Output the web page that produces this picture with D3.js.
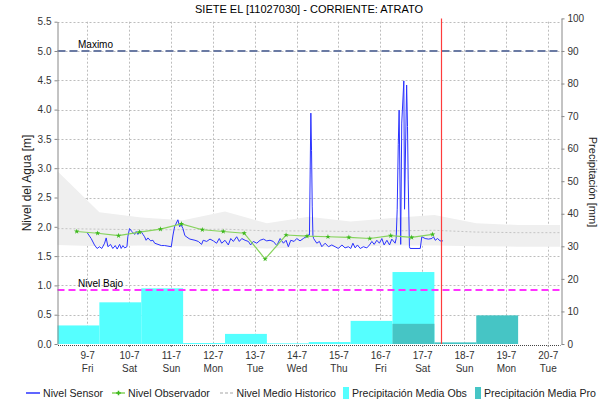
<!DOCTYPE html>
<html>
<head>
<meta charset="utf-8">
<script src="https://cdn.jsdelivr.net/npm/d3@7"></script>
<style>
  body { margin: 0; background: #fff; }
  svg { display: block; font-family: "Liberation Sans", Arial, sans-serif; }
</style>
</head>
<body>
<svg id="chart" width="616" height="405"></svg>
<script>
// ---- data ----
const dayLabels = ["9-7", "10-7", "11-7", "12-7", "13-7", "14-7", "15-7", "16-7", "17-7", "18-7", "19-7", "20-7"];
const weekDays = ["Fri", "Sat", "Sun", "Mon", "Tue", "Wed", "Thu", "Fri", "Sat", "Sun", "Mon", "Tue"];
const levelTicks = [0, 0.5, 1, 1.5, 2, 2.5, 3, 3.5, 4, 4.5, 5, 5.5];
const rainTicks = [0, 10, 20, 30, 40, 50, 60, 70, 80, 90, 100];

// sensor: [hours since 9-7 00:00, level m]
const sensorLevels = [
  [0, 1.90], [2.3, 1.80], [4.2, 1.69], [5.7, 1.63], [7.1, 1.66], [8.4, 1.63], [10, 1.72], [10.9, 1.81],
  [11.9, 1.66], [13.4, 1.70], [14.7, 1.63], [16.1, 1.68], [17.2, 1.62], [18.6, 1.70], [19.5, 1.63],
  [20.5, 1.68], [21.5, 1.64], [22.8, 1.66], [23.3, 1.83], [24.3, 1.97], [25.6, 1.92], [27.2, 1.87],
  [28.1, 1.92], [29.1, 1.87], [30.6, 1.93], [32, 1.87], [32.9, 1.83], [33.8, 1.77], [34.8, 1.81],
  [36.4, 1.76], [37.7, 1.77], [38.7, 1.72], [40.6, 1.70], [42.5, 1.68], [44.4, 1.68], [46.3, 1.67],
  [48.2, 1.66], [49.2, 1.86], [50.1, 2.00], [52, 2.12], [53, 2.00], [53.9, 2.03], [54.9, 1.97],
  [56, 1.85], [57.8, 1.81], [58.9, 1.79], [61.8, 1.77], [63.7, 1.75], [65.6, 1.70], [66.5, 1.77],
  [68.5, 1.75], [70.4, 1.79], [72.3, 1.76], [74.2, 1.72], [75.7, 1.80], [77.1, 1.72], [79, 1.77],
  [80.9, 1.69], [82.3, 1.80], [83.8, 1.75], [85.7, 1.83], [87.2, 1.75], [88.6, 1.80], [90.5, 1.77],
  [92.4, 1.75], [93.7, 1.69], [95.2, 1.75], [97.2, 1.72], [99.1, 1.77], [101, 1.79], [102.9, 1.76],
  [104.8, 1.77], [106.7, 1.75], [108.7, 1.68], [110.6, 1.80], [112.5, 1.72], [114, 1.77], [115.3, 1.66],
  [116.7, 1.77], [118.6, 1.75], [120.1, 1.80], [122, 1.76], [123.9, 1.80], [125.4, 1.83], [126.7, 1.86],
  [127.4, 1.86], [127.8, 2.90], [128.2, 3.94], [128.6, 3.30], [129.0, 2.34], [129.4, 1.85], [129.8, 1.80],
  [131.6, 1.72], [133.1, 1.75], [134.5, 1.66], [136.4, 1.72], [138.3, 1.66], [140.2, 1.69], [142.1, 1.66],
  [144, 1.63], [146, 1.69], [147.8, 1.64], [149.7, 1.66], [151.1, 1.63], [152.3, 1.72], [153.6, 1.64],
  [154.9, 1.69], [156.5, 1.63], [158.3, 1.66], [160.3, 1.64], [161.8, 1.69], [163.2, 1.75], [164.5, 1.70],
  [166, 1.77], [167.5, 1.72], [168.9, 1.80], [170.2, 1.69], [171.8, 1.77], [173.3, 1.69], [174.6, 1.79],
  [176.5, 1.72], [177.1, 1.80], [177.7, 2.30], [178.3, 3.40], [178.8, 3.99], [179.7, 1.70], [180.3, 3.77],
  [181.5, 4.49], [181.9, 2.30], [183.1, 4.42], [183.6, 3.71], [184, 2.80], [184.7, 1.66], [185.1, 1.63],
  [190.9, 1.63], [191.8, 1.83], [193.7, 1.80], [195.6, 1.79], [197.6, 1.80], [198.5, 1.83], [199.5, 1.77],
  [200.8, 1.80], [202.3, 1.76], [203.9, 1.76]
];

// observer readings, every 12 h starting 8-7 18:00
const observerLevels = [1.92, 1.89, 1.85, 1.91, 1.96, 2.05, 1.95, 1.92, 1.89, 1.45,
                        1.86, 1.84, 1.83, 1.82, 1.80, 1.85, 1.82, 1.87];

// historical level, one value per day starting 8-7 07:00
const histUpper  = [2.95, 2.25, 2.16, 2.11, 2.26, 2.06, 2.17, 2.09, 2.15, 2.20, 2.06, 2.03, 2.03];
const histLower  = [1.69, 1.67, 1.68, 1.67, 1.66, 1.63, 1.65, 1.66, 1.68, 1.68, 1.67, 1.66, 1.66];
const histMedian = [1.97, 1.96, 1.95, 1.95, 1.96, 1.93, 1.93, 1.92, 1.93, 1.94, 1.91, 1.90, 1.90];

// daily rain (07:00 to 07:00) starting 8-7
const rainObs = [5.7, 12.8, 17.1, 0.3, 3.1, 0.2, 0.6, 7.1, 22.1, 0, 0, 0];
const rainPro = [0, 0, 0, 0, 0, 0, 0, 0, 6.2, 0.5, 8.8, 0];

const levelMax = 5.0;
const levelLow = 0.92;

// ---- setup ----
const svg = d3.select("#chart");
const HOUR = 3600 * 1000;
const start = new Date(2021, 6, 8, 7);
const sensorStart = new Date(2021, 6, 9, 0);
const obsStart = new Date(2021, 6, 8, 18);
const now = new Date(2021, 6, 17, 11);

const plotLeft = 57.5, plotRight = 560, plotTop = 18.4, plotBottom = 344;

const x = d3.scaleTime().domain([start, new Date(2021, 6, 20, 7)]).range([plotLeft, plotRight]);
const yLevel = d3.scaleLinear().domain([0, 5.5]).range([plotBottom, 21.7]);
const yRain = d3.scaleLinear().domain([0, 100]).range([plotBottom, plotTop]);

const dayStart = i => new Date(start.getTime() + i * 24 * HOUR);
const tickDates = dayLabels.map((d, i) => new Date(2021, 6, 9 + i));

// title
svg.append("text")
    .attr("x", 309)
    .attr("y", 13)
    .attr("text-anchor", "middle")
    .attr("font-size", "11px")
    .attr("fill", "#000")
    .text("SIETE EL [11027030] - CORRIENTE: ATRATO");

// gridlines
const grid = svg.append("g")
    .attr("stroke", "#bdbdbd")
    .attr("stroke-dasharray", "2,2")
    .attr("stroke-width", 1);

levelTicks.filter(v => v > 0).forEach(v => {
    grid.append("line")
        .attr("x1", plotLeft).attr("x2", plotRight)
        .attr("y1", Math.round(yLevel(v)) + 0.5).attr("y2", Math.round(yLevel(v)) + 0.5);
});
tickDates.forEach(d => {
    grid.append("line")
        .attr("x1", Math.round(x(d)) + 0.5).attr("x2", Math.round(x(d)) + 0.5)
        .attr("y1", yLevel(5.5)).attr("y2", plotBottom);
});

// historical band
const histPoints = histUpper.map((u, i) => ({ t: dayStart(i), u: u, l: histLower[i], m: histMedian[i] }));
svg.append("path")
    .datum(histPoints)
    .attr("fill", "#efefef")
    .attr("d", d3.area().x(d => x(d.t)).y0(d => yLevel(d.l)).y1(d => yLevel(d.u)));
svg.append("path")
    .datum(histPoints)
    .attr("fill", "none")
    .attr("stroke", "#c4c4c4")
    .attr("stroke-dasharray", "2,2")
    .attr("d", d3.line().x(d => x(d.t)).y(d => yLevel(d.m)));

// rain bars
svg.append("g").selectAll("rect")
    .data(rainObs)
    .join("rect")
    .attr("x", (d, i) => x(dayStart(i)))
    .attr("width", (d, i) => x(dayStart(i + 1)) - x(dayStart(i)))
    .attr("y", d => yRain(d))
    .attr("height", d => plotBottom - yRain(d))
    .attr("fill", "#55ffff");

svg.append("g").selectAll("rect")
    .data(rainPro)
    .join("rect")
    .attr("x", (d, i) => x(dayStart(i)))
    .attr("width", (d, i) => x(dayStart(i + 1)) - x(dayStart(i)))
    .attr("y", d => yRain(d))
    .attr("height", d => plotBottom - yRain(d))
    .attr("fill", "#46c5c5");

// threshold lines
svg.append("line")
    .attr("x1", plotLeft).attr("x2", plotRight)
    .attr("y1", yLevel(levelMax)).attr("y2", yLevel(levelMax))
    .attr("stroke", "#6a7aa3")
    .attr("stroke-width", 2)
    .attr("stroke-dasharray", "8,4");
svg.append("text")
    .attr("x", 78).attr("y", yLevel(levelMax) - 3)
    .attr("font-size", "10px")
    .text("Maximo");

svg.append("line")
    .attr("x1", plotLeft).attr("x2", plotRight)
    .attr("y1", yLevel(levelLow)).attr("y2", yLevel(levelLow))
    .attr("stroke", "#ff33ff")
    .attr("stroke-width", 2)
    .attr("stroke-dasharray", "7,4");
svg.append("text")
    .attr("x", 78).attr("y", yLevel(levelLow) - 3)
    .attr("font-size", "10px")
    .text("Nivel Bajo");

// sensor line
svg.append("path")
    .datum(sensorLevels)
    .attr("fill", "none")
    .attr("stroke", "#2b33ff")
    .attr("stroke-width", 1)
    .attr("d", d3.line()
        .x(d => x(new Date(sensorStart.getTime() + d[0] * HOUR)))
        .y(d => yLevel(d[1])));

// observer line + markers
const obsPoints = observerLevels.map((v, i) => ({ t: new Date(obsStart.getTime() + i * 12 * HOUR), v: v }));
svg.append("path")
    .datum(obsPoints)
    .attr("fill", "none")
    .attr("stroke", "#86d35c")
    .attr("stroke-width", 1.2)
    .attr("d", d3.line().x(d => x(d.t)).y(d => yLevel(d.v)));
svg.append("g").selectAll("path")
    .data(obsPoints)
    .join("path")
    .attr("transform", d => `translate(${x(d.t)},${yLevel(d.v)})`)
    .attr("d", d3.symbol(d3.symbolStar, 9))
    .attr("fill", "#3cb81c");

// now marker
svg.append("line")
    .attr("x1", Math.round(x(now)) + 0.5).attr("x2", Math.round(x(now)) + 0.5)
    .attr("y1", plotTop).attr("y2", plotBottom)
    .style("stroke", "rgb(255,60,60)")
    .style("stroke-width", "1.2px");

// axes
const styleAxis = g => {
    g.select(".domain").attr("stroke", "#888");
    g.selectAll(".tick line").attr("stroke", "#888");
    g.selectAll(".tick text").attr("fill", "#333").attr("font-size", "10px")
        .attr("font-family", "Liberation Sans, Arial, sans-serif");
};

svg.append("g")
    .attr("transform", `translate(${plotLeft},0)`)
    .call(d3.axisLeft(yLevel).tickValues(levelTicks).tickFormat(d3.format(".1f")).tickSize(3).tickSizeOuter(0))
    .call(styleAxis);

svg.append("g")
    .attr("transform", `translate(${plotRight + 1.5},0)`)
    .call(d3.axisRight(yRain).tickValues(rainTicks).tickSize(3).tickSizeOuter(0))
    .call(styleAxis);

const xAxis = svg.append("g")
    .attr("transform", `translate(0,${plotBottom + 1})`)
    .call(d3.axisBottom(x).tickValues(tickDates).tickSize(2).tickSizeOuter(0))
    .call(styleAxis);
xAxis.select(".domain").attr("stroke", "#444").attr("stroke-dasharray", "1,1");
xAxis.selectAll(".tick text").each(function (d, i) {
    const t = d3.select(this).text(null).attr("y", 7);
    t.append("tspan").attr("x", 0).attr("dy", "0.71em").text(dayLabels[i]);
    t.append("tspan").attr("x", 0).attr("dy", "1.3em").text(weekDays[i]);
});

// axis titles
svg.append("text")
    .attr("transform", `translate(31,183) rotate(-90)`)
    .attr("text-anchor", "middle")
    .attr("font-size", "12px")
    .attr("fill", "#222")
    .text("Nivel del Agua [m]");
svg.append("text")
    .attr("transform", `translate(589,182) rotate(90)`)
    .attr("text-anchor", "middle")
    .attr("font-size", "11px")
    .attr("fill", "#222")
    .text("Precipitación [mm]");

// legend
const legend = svg.append("g").attr("font-size", "10.6px").attr("fill", "#222");
const ly = 393;
legend.append("line").attr("x1", 26).attr("x2", 40).attr("y1", ly).attr("y2", ly)
    .attr("stroke", "#2b33ff").attr("stroke-width", 1.5);
legend.append("text").attr("x", 43).attr("y", ly + 4).text("Nivel Sensor");

legend.append("line").attr("x1", 112).attr("x2", 125).attr("y1", ly).attr("y2", ly)
    .attr("stroke", "#86d35c").attr("stroke-width", 1.5);
legend.append("path").attr("transform", `translate(118.5,${ly})`)
    .attr("d", d3.symbol(d3.symbolCross, 12)).attr("fill", "#3cb81c");
legend.append("text").attr("x", 128).attr("y", ly + 4).text("Nivel Observador");

legend.append("line").attr("x1", 220).attr("x2", 233).attr("y1", ly).attr("y2", ly)
    .attr("stroke", "#c4c4c4").attr("stroke-width", 1.5).attr("stroke-dasharray", "3,2");
legend.append("text").attr("x", 236.5).attr("y", ly + 4).text("Nivel Medio Historico");

legend.append("rect").attr("x", 343).attr("y", ly - 6).attr("width", 6).attr("height", 12).attr("fill", "#55ffff");
legend.append("text").attr("x", 352).attr("y", ly + 4).text("Precipitación Media Obs");

legend.append("rect").attr("x", 475).attr("y", ly - 6).attr("width", 6).attr("height", 12).attr("fill", "#46c5c5");
legend.append("text").attr("x", 484).attr("y", ly + 4).text("Precipitación Media Pro");
</script>
</body>
</html>
